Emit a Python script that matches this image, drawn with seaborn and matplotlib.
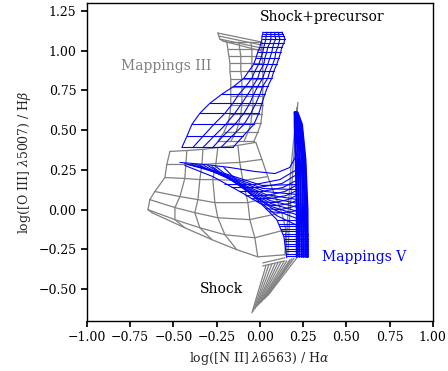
import numpy as np
import pandas as pd
import matplotlib
matplotlib.use("Agg")
import matplotlib.pyplot as plt
import seaborn as sns

# ---------------- data ----------------
# Mappings V, shock+precursor grid: rung y levels and node x per rung
MV_SP_Y = [0.391, 0.461, 0.536, 0.606, 0.669, 0.726, 0.776, 0.827, 0.871,
           0.915, 0.953, 0.991, 1.022, 1.048, 1.073, 1.092, 1.105, 1.117]
MV_SP_X = [
    [-0.451, -0.387, -0.329, -0.272, -0.225, -0.156],
    [-0.422, -0.329, -0.266, -0.214, -0.162, -0.098],
    [-0.393, -0.266, -0.197, -0.145, -0.092, -0.035],
    [-0.347, -0.202, -0.145, -0.092, -0.052, -0.006],
    [-0.289, -0.156, -0.104, -0.058, -0.023, 0.012],
    [-0.220, -0.121, -0.069, -0.035, 0.000, 0.029],
    [-0.150, -0.081, -0.040, -0.012, 0.017, 0.046],
    [-0.092, -0.046, -0.012, 0.017, 0.046, 0.069],
    [-0.064, -0.029, 0.000, 0.029, 0.058, 0.081],
    [-0.035, -0.006, 0.023, 0.046, 0.075, 0.098],
    [-0.023, 0.006, 0.029, 0.058, 0.087, 0.110],
    [-0.012, 0.017, 0.040, 0.069, 0.092, 0.121],
    [0.000, 0.023, 0.046, 0.075, 0.104, 0.127],
    [0.006, 0.029, 0.058, 0.081, 0.110, 0.139],
    [0.012, 0.035, 0.064, 0.092, 0.116, 0.145],
    [0.012, 0.035, 0.064, 0.087, 0.110, 0.139],
    [0.017, 0.040, 0.064, 0.087, 0.110, 0.133],
    [0.017, 0.040, 0.064, 0.087, 0.104, 0.127],
]

# Mappings V, shock-only grid: curves (x list, y list)
MV_S_CURVES_X = [
    [-0.462, -0.318, -0.173, -0.029, 0.087, 0.173, 0.214, 0.225],
    [-0.434, -0.202, 0.012, 0.220],
    [-0.416, -0.185, 0.017, 0.220],
    [-0.393, -0.173, 0.029, 0.220],
    [-0.370, -0.162, 0.035, 0.220],
    [-0.347, -0.145, 0.046, 0.225],
    [-0.324, -0.127, 0.058, 0.225],
    [-0.301, -0.116, 0.064, 0.225],
    [-0.277, -0.104, 0.069, 0.231],
    [-0.254, -0.087, 0.081, 0.231],
    [-0.208, -0.058, 0.098, 0.231],
    [-0.434, -0.272, -0.116, 0.012, 0.098, 0.139, 0.156],
    [-0.202, -0.029, 0.116, 0.214],
    [-0.162, -0.012, 0.127, 0.214],
    [-0.116, 0.012, 0.133, 0.220],
    [-0.081, 0.035, 0.145, 0.220],
    [-0.046, 0.058, 0.150, 0.225],
    [-0.017, 0.081, 0.162, 0.225],
    [0.012, 0.098, 0.168, 0.225],
    [0.035, 0.116, 0.173, 0.231],
    [0.058, 0.127, 0.185, 0.231],
    [0.098, 0.156, 0.231],
]
MV_S_CURVES_Y = [
    [0.297, 0.284, 0.265, 0.240, 0.227, 0.265, 0.347, 0.442],
    [0.290, 0.227, 0.152, 0.158],
    [0.284, 0.215, 0.133, 0.126],
    [0.284, 0.202, 0.114, 0.095],
    [0.284, 0.189, 0.095, 0.063],
    [0.278, 0.177, 0.076, 0.038],
    [0.278, 0.164, 0.057, 0.013],
    [0.278, 0.152, 0.038, -0.013],
    [0.271, 0.139, 0.019, -0.038],
    [0.271, 0.126, 0.000, -0.063],
    [0.265, 0.101, -0.038, -0.107],
    [0.278, 0.208, 0.114, 0.032, -0.063, -0.170, -0.303],
    [0.158, 0.158, 0.189, 0.252],
    [0.139, 0.139, 0.164, 0.221],
    [0.114, 0.114, 0.139, 0.189],
    [0.088, 0.088, 0.114, 0.158],
    [0.069, 0.069, 0.088, 0.126],
    [0.051, 0.044, 0.063, 0.095],
    [0.032, 0.025, 0.038, 0.063],
    [0.006, 0.000, 0.013, 0.032],
    [-0.013, -0.019, -0.013, 0.000],
    [-0.063, -0.063, -0.063],
]
# short rungs at the bottom of the Mappings V shock grid
MV_RUNG_Y = [-0.088, -0.104, -0.120, -0.136, -0.152, -0.167, -0.183,
             -0.199, -0.215, -0.231, -0.247, -0.262, -0.278, -0.294]
MV_RUNG_X0 = [0.110, 0.116, 0.122, 0.127, 0.133, 0.139, 0.141,
              0.145, 0.147, 0.149, 0.151, 0.153, 0.154, 0.156]
MV_RUNG_X1 = [0.272, 0.272, 0.275, 0.275, 0.277, 0.277, 0.277,
              0.277, 0.277, 0.277, 0.277, 0.277, 0.277, 0.277]
# dense high-B band
MV_BAND_Y = [0.612, 0.536, 0.316, 0.000, -0.297]
MV_BAND_X = [
    [0.202, 0.202, 0.208, 0.214, 0.214],
    [0.202, 0.211, 0.220, 0.225, 0.228],
    [0.205, 0.220, 0.231, 0.237, 0.243],
    [0.208, 0.225, 0.243, 0.249, 0.254],
    [0.211, 0.234, 0.251, 0.260, 0.266],
    [0.214, 0.240, 0.260, 0.269, 0.275],
    [0.217, 0.243, 0.263, 0.275, 0.277],
]

# Mappings III, shock+precursor upper column
M3_COL_Y = [1.054, 1.010, 0.966, 0.921, 0.871, 0.821, 0.770, 0.713, 0.656,
            0.599, 0.543, 0.486, 0.429]
M3_COL_X = [
    [-0.191, -0.121, -0.052, 0.012],
    [-0.185, -0.116, -0.046, 0.012],
    [-0.179, -0.110, -0.046, 0.012],
    [-0.173, -0.110, -0.046, 0.017],
    [-0.173, -0.110, -0.046, 0.017],
    [-0.168, -0.104, -0.040, 0.017],
    [-0.168, -0.104, -0.040, 0.017],
    [-0.168, -0.104, -0.040, 0.017],
    [-0.168, -0.104, -0.040, 0.017],
    [-0.173, -0.110, -0.046, 0.012],
    [-0.185, -0.121, -0.052, 0.006],
    [-0.208, -0.139, -0.069, -0.012],
    [-0.243, -0.168, -0.092, -0.035],
]
# Mappings III lower grid (node x and y per row)
M3_LOW_X = [
    [-0.520, -0.422, -0.329, -0.243, -0.127, -0.023],
    [-0.538, -0.428, -0.335, -0.254, -0.116, 0.012],
    [-0.549, -0.434, -0.347, -0.272, -0.098, 0.046],
    [-0.607, -0.462, -0.358, -0.260, -0.069, 0.087],
    [-0.636, -0.491, -0.376, -0.243, -0.058, 0.127],
    [-0.647, -0.491, -0.347, -0.202, -0.029, 0.150],
    [-0.624, -0.434, -0.277, -0.133, -0.012, 0.145],
]
M3_LOW_Y = [
    [0.366, 0.372, 0.379, 0.391, 0.404, 0.423],
    [0.284, 0.284, 0.284, 0.290, 0.297, 0.316],
    [0.202, 0.196, 0.189, 0.189, 0.183, 0.208],
    [0.114, 0.082, 0.063, 0.044, 0.044, 0.088],
    [0.063, 0.013, -0.019, -0.051, -0.063, -0.019],
    [0.000, -0.063, -0.114, -0.158, -0.177, -0.126],
    [-0.019, -0.114, -0.189, -0.252, -0.297, -0.284],
]
# Mappings III other lines (top fan, spike, short lines)
M3_LINES_X = [
    [-0.243, 0.012], [-0.237, 0.012], [-0.231, 0.012], [-0.214, 0.012],
    [-0.243, -0.237, -0.231, -0.214, -0.191],
    [0.220, 0.208, 0.191, 0.173, 0.162],
    [0.214, 0.202, 0.179, 0.162, 0.150],
    [0.017, 0.145], [0.017, 0.145],
]
M3_LINES_Y = [
    [1.111, 1.054], [1.092, 1.035], [1.073, 1.016], [1.061, 0.997],
    [1.111, 1.092, 1.073, 1.061, 1.054],
    [0.675, 0.505, 0.253, -0.032, -0.284],
    [0.644, 0.505, 0.253, -0.032, -0.284],
    [-0.335, -0.303], [-0.354, -0.322],
]
# Mappings III shock-only band (start = upper right, end = lower left)
M3_SH_X0 = [0.035, 0.052, 0.069, 0.087, 0.104, 0.121, 0.139, 0.156, 0.173, 0.185, 0.197, 0.214]
M3_SH_Y0 = [-0.354, -0.347, -0.344, -0.341, -0.335, -0.331, -0.328, -0.322, -0.316, -0.309, -0.306, -0.303]
M3_SH_X1 = [-0.046, -0.038, -0.029, -0.020, -0.012, -0.003, 0.006, 0.014, 0.023, 0.032, 0.040, 0.049]
M3_SH_Y1 = [-0.650, -0.638, -0.625, -0.612, -0.603, -0.593, -0.584, -0.574, -0.565, -0.556, -0.546, -0.537]

# ---------------- build segments ----------------
rows = []
seg_id = [0]


def add(xs, ys, model):
    for x, y in zip(xs, ys):
        rows.append({"x": x, "y": y, "seg": seg_id[0], "model": model})
    seg_id[0] += 1


def add_grid(X, Y, model):
    X = np.asarray(X, float)
    Y = np.asarray(Y, float)
    if Y.ndim == 1:
        Y = np.repeat(Y[:, None], X.shape[1], axis=1)
    for r in range(X.shape[0]):
        add(X[r], Y[r], model)
    for c in range(X.shape[1]):
        add(X[:, c], Y[:, c], model)


# Mappings III (gray)
add_grid(M3_COL_X, M3_COL_Y, "M3")
add_grid(M3_LOW_X, M3_LOW_Y, "M3")
for xs, ys in zip(M3_LINES_X, M3_LINES_Y):
    add(xs, ys, "M3")
for a, b, c, d in zip(M3_SH_X0, M3_SH_Y0, M3_SH_X1, M3_SH_Y1):
    add([a, c], [b, d], "M3")

# Mappings V (blue)
add_grid(MV_SP_X, MV_SP_Y, "MV")
for xs, ys in zip(MV_S_CURVES_X, MV_S_CURVES_Y):
    add(xs, ys, "MV")
for y, a, b in zip(MV_RUNG_Y, MV_RUNG_X0, MV_RUNG_X1):
    add([a, b], [y, y], "MV")
for xs in MV_BAND_X:
    add(xs, MV_BAND_Y, "MVB")

df = pd.DataFrame(rows)

# ---------------- plot ----------------
sns.set_theme(style="ticks")
plt.rcParams["font.family"] = ["DejaVu Serif"]
plt.rcParams["mathtext.fontset"] = "dejavuserif"
plt.rcParams["font.size"] = 9
plt.rcParams["axes.linewidth"] = 1.0
plt.rcParams["xtick.major.size"] = 4
plt.rcParams["ytick.major.size"] = 4
plt.rcParams["xtick.color"] = "black"
plt.rcParams["ytick.color"] = "black"
plt.rcParams["axes.edgecolor"] = "black"

fig = plt.figure(figsize=(4.48, 3.71), dpi=100)
ax = fig.add_axes([0.194, 0.135, 0.772, 0.857])

sns.lineplot(data=df[df.model == "M3"], x="x", y="y", units="seg", estimator=None,
             sort=False, color="gray", lw=0.9, ax=ax, legend=False)
sns.lineplot(data=df[df.model == "MV"], x="x", y="y", units="seg", estimator=None,
             sort=False, color="blue", lw=0.8, ax=ax, legend=False)
sns.lineplot(data=df[df.model == "MVB"], x="x", y="y", units="seg", estimator=None,
             sort=False, color="blue", lw=1.6, ax=ax, legend=False)

ax.set_xlim(-1.0, 1.0)
ax.set_ylim(-0.70, 1.30)
ax.set_xticks([-1.0, -0.75, -0.5, -0.25, 0.0, 0.25, 0.5, 0.75, 1.0])
ax.set_yticks([-0.5, -0.25, 0.0, 0.25, 0.5, 0.75, 1.0, 1.25])
ax.tick_params(labelsize=9, direction="out")
for s in ax.spines.values():
    s.set_visible(True)
    s.set_color("black")

ax.set_xlabel(r"log([N II] $\lambda$6563) / H$\alpha$", fontsize=9)
ax.set_ylabel(r"log([O III] $\lambda$5007) / H$\beta$", fontsize=9)

ax.text(0.0, 1.21, "Shock+precursor", color="black", fontsize=10, va="center", ha="left")
ax.text(-0.80, 0.905, "Mappings III", color="gray", fontsize=10, va="center", ha="left")
ax.text(0.36, -0.297, "Mappings V", color="blue", fontsize=10, va="center", ha="left")
ax.text(-0.345, -0.50, "Shock", color="black", fontsize=10, va="center", ha="left")

fig.savefig("out.png", dpi=100)
